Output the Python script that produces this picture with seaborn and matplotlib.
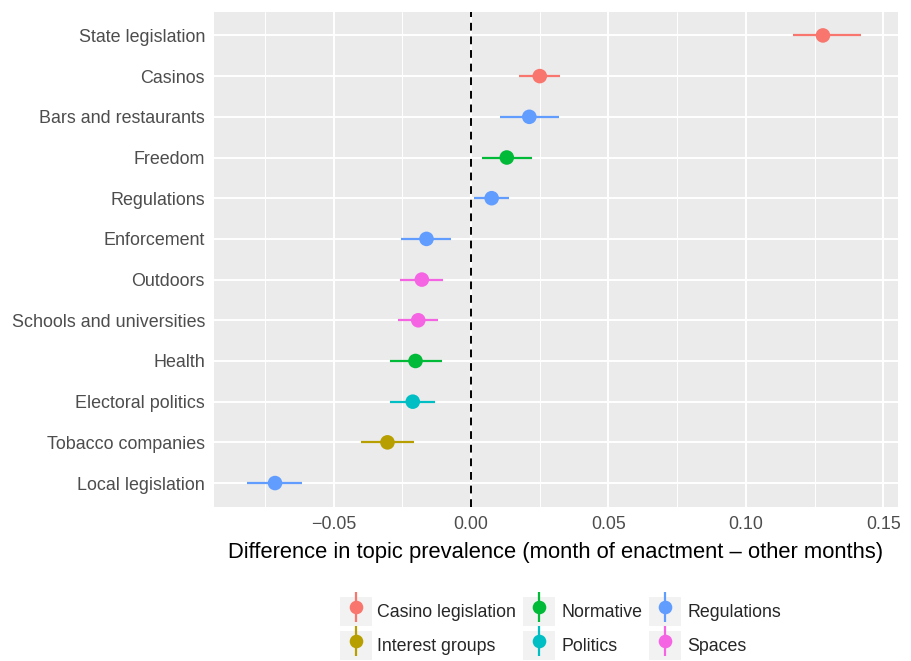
import numpy as np
import pandas as pd
import matplotlib
matplotlib.use("Agg")
import matplotlib.pyplot as plt
from matplotlib.lines import Line2D
from matplotlib.patches import Rectangle
from matplotlib.legend_handler import HandlerTuple
import seaborn as sns

# Topics, listed top to bottom
topics = ["State legislation", "Casinos", "Bars and restaurants", "Freedom",
          "Regulations", "Enforcement", "Outdoors", "Schools and universities",
          "Health", "Electoral politics", "Tobacco companies", "Local legislation"]
groups = ["Casino legislation", "Casino legislation", "Regulations", "Normative",
          "Regulations", "Regulations", "Spaces", "Spaces",
          "Normative", "Politics", "Interest groups", "Regulations"]
estimate = [0.128, 0.025, 0.0212, 0.013, 0.0075, -0.0162, -0.0179, -0.0192,
            -0.0202, -0.0212, -0.0304, -0.0713]
ci_low = [0.117, 0.0173, 0.0106, 0.004, 0.0011, -0.0253, -0.026, -0.0266,
          -0.0296, -0.0293, -0.0399, -0.0816]
ci_high = [0.1418, 0.0325, 0.0319, 0.0223, 0.0139, -0.0074, -0.0103, -0.0119,
           -0.0107, -0.0131, -0.0208, -0.0614]

group_order = ["Casino legislation", "Interest groups", "Normative",
               "Politics", "Regulations", "Spaces"]
group_colors = ["#F8766D", "#B79F00", "#00BA38", "#00BFC4", "#619CFF", "#F564E3"]
palette = dict(zip(group_order, group_colors))

df = pd.DataFrame({"topic": topics, "group": groups, "estimate": estimate,
                   "lo": ci_low, "hi": ci_high})

sns.set_theme(style="darkgrid")
plt.rcParams["font.family"] = ["Liberation Sans", "DejaVu Sans"]

fig = plt.figure(figsize=(9.11, 6.61), dpi=100)
ax = fig.add_axes([0.2349, 0.2335, 0.7508, 0.7480])
ax.set_facecolor("#EBEBEB")

# confidence intervals, then point estimates
ax.hlines(y=df["topic"], xmin=df["lo"], xmax=df["hi"],
          colors=[palette[g] for g in df["group"]], linewidth=1.6, zorder=3)
sns.scatterplot(data=df, x="estimate", y="topic", hue="group",
                hue_order=group_order, palette=palette, s=110,
                edgecolor="none", linewidth=0, ax=ax, legend=False, zorder=4)

ax.axvline(0, color="black", linestyle=(0, (4, 3)), linewidth=1.4, zorder=2.5)

n = len(topics)
ax.set_ylim(n - 1 + 0.58, -0.57)
ax.set_xlim(-0.0935, 0.1553)
ax.set_xticks([-0.05, 0.0, 0.05, 0.10, 0.15])
ax.set_xticklabels(["\u22120.05", "0.00", "0.05", "0.10", "0.15"])
ax.set_xticks(np.arange(-0.075, 0.16, 0.05), minor=True)

ax.grid(which="major", color="white", linewidth=1.4)
ax.grid(which="minor", axis="x", color="white", linewidth=0.7)
ax.set_axisbelow(True)
for s in ax.spines.values():
    s.set_visible(False)

ax.tick_params(axis="both", which="major", length=3.5, width=1.0,
               color="#333333", labelcolor="#4D4D4D", labelsize=12.9, pad=3)
ax.tick_params(axis="both", which="minor", length=0)
ax.set_xlabel("Difference in topic prevalence (month of enactment \u2013 other months)",
              fontsize=15.8, color="black", labelpad=7)
ax.set_ylabel("")

# legend keys: grey box with a vertical bar and a dot
handles = []
for c in group_colors:
    box = Rectangle((0, 0), 1, 1, facecolor="#F2F2F2", edgecolor="none")
    bar = Line2D([], [], linestyle="none", marker="|", markersize=21,
                 markeredgewidth=1.6, color=c)
    dot = Line2D([], [], linestyle="none", marker="o", markersize=9.8,
                 color=c, markeredgewidth=0)
    handles.append((box, bar, dot))
leg = fig.legend(handles, group_order, ncol=3, loc="center",
                 bbox_to_anchor=(0.615, 0.0492), frameon=False,
                 handler_map={tuple: HandlerTuple(ndivide=1, pad=0)},
                 handlelength=1.8, handleheight=2.13, handletextpad=0.33,
                 columnspacing=0.4, labelspacing=0.28, fontsize=12.8,
                 borderpad=0)

fig.savefig("out.png", dpi=100)
